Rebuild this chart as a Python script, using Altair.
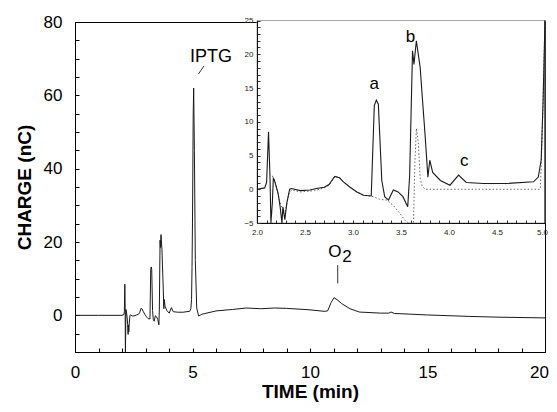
import altair as alt
import pandas as pd

FONT = "Liberation Sans"

# ---- main trace (time in min, charge in nC) ----
time_min = [0.0, 1.0, 2.0, 2.08, 2.10,
            2.12, 2.135, 2.145, 2.16, 2.17,
            2.18, 2.22, 2.24, 2.26, 2.27,
            2.29, 2.31, 2.34, 2.36, 2.45,
            2.55, 2.62, 2.70, 2.75, 2.81,
            2.86, 2.90, 2.97, 3.04, 3.11,
            3.19, 3.222, 3.243, 3.264, 3.30,
            3.33, 3.37, 3.42, 3.47, 3.52,
            3.57, 3.59, 3.62, 3.635, 3.66,
            3.70, 3.72, 3.75, 3.78, 3.80,
            3.83, 3.91, 4.01, 4.10, 4.18,
            4.36, 4.60, 4.88, 4.93, 4.96,
            4.98, 5.00, 5.03, 5.05, 5.08,
            5.12, 5.18, 5.26, 5.40, 6.0,
            6.7, 7.3, 7.9, 8.5, 9.0,
            10.0, 10.6, 10.75, 10.9, 11.02,
            11.15, 11.35, 11.7, 12.1, 13.0,
            13.35, 13.45, 13.6, 14.0, 15.0,
            16.8, 18.0, 20.0]
charge_nc = [0, 0, 0, 0.2, 1.0,
             8.5, 2.0, -11, -2.0, 1.6,
             1.4, -0.6, -2.5, -5.2, -2.6,
             -4.5, -2.1, 0.0, 0.1, -0.2,
             -0.1, 0.1, 0.3, 0.7, 1.9,
             1.7, 1.1, 0.3, -0.4, -0.9,
             -1.0, 12.4, 13.2, 12.6, 1.3,
             -1.1, -1.6, -0.1, -0.4, -1.1,
             -2.6, 2.0, 20.5, 18.5, 22.0,
             18.0, 14.0, 8.2, 1.8, 4.3,
             2.5, 1.3, 0.6, 2.1, 1.0,
             0.85, 0.85, 1.1, 1.8, 4.3,
             13.0, 26, 55, 62, 45,
             15, 2.0, -0.2, 0.3, 1.2,
             1.6, 2.0, 1.8, 2.0, 1.9,
             1.5, 1.1, 1.2, 3.5, 4.8,
             4.3, 3.2, 1.8, 0.9, 0.6,
             0.6, 0.9, 0.5, 0.4, 0.1,
             -0.3, -0.5, -0.7]

# ---- dotted trace in the inset ----
dot_time = [2.16, 2.19, 2.22, 2.25, 2.28,
            2.30, 2.33, 2.36, 2.45, 2.60,
            2.70, 2.75, 2.81, 2.86, 2.90,
            2.97, 3.04, 3.11, 3.18, 3.21,
            3.28, 3.35, 3.42, 3.49, 3.54,
            3.58, 3.62, 3.63, 3.645, 3.66,
            3.68, 3.70, 3.72, 3.75, 3.80,
            4.20, 4.60, 4.95, 4.96, 4.98,
            5.00]
dot_charge = [2.0, 1.0, -0.8, -2.4, -3.6,
              -3.0, -0.8, -0.1, -0.4, -0.2,
              0.2, 0.6, 1.9, 1.7, 1.1,
              0.3, -0.4, -0.9, -1.0, -1.1,
              -1.5, -1.6, -2.4, -3.6, -4.6,
              -6.0, -6.0, -5.5, 4.0, 9.0,
              7.0, 1.6, 0.5, 0.0, 0.0,
              0.0, 0.0, 0.0, 3.0, 13.0,
              26.0]

# ---- annotations ----
iptg_label = ["IPTG"]
iptg_t = [5.79]
iptg_q = [69.1]
o2_labels = ["O", "2"]
o2_t = [11.06, 11.57]
o2_q = [15.8, 14.6]
leader_t = [5.49, 11.18]
leader_t2 = [5.25, 11.18]
leader_q = [68.0, 13.7]
leader_q2 = [65.8, 8.7]

inset_labels = ["a", "b", "c"]
inset_label_t = [3.22, 3.60, 4.16]
inset_label_q = [14.9, 21.8, 3.5]

main_x_ticks = list(range(0, 21))
main_y_ticks = list(range(-10, 81, 5))
inset_x_ticks = [round(2.0 + 0.1 * i, 1) for i in range(31)]
inset_y_ticks = list(range(-5, 26))

main_df = pd.DataFrame({"t": time_min, "q": charge_nc})
dot_df = pd.DataFrame({"t": dot_time, "q": dot_charge})
iptg_df = pd.DataFrame({"t": iptg_t, "q": iptg_q, "label": iptg_label})
o2_df = pd.DataFrame({"t": o2_t, "q": o2_q, "label": o2_labels})
lead_df = pd.DataFrame({"t": leader_t, "t2": leader_t2, "q": leader_q, "q2": leader_q2})
in_lab_df = pd.DataFrame({"t": inset_label_t, "q": inset_label_q, "label": inset_labels})
frame_df = pd.DataFrame({"t": [2.0], "t2": [5.0], "q": [-5.0], "q2": [25.0]})

W, H = 470, 330

# ---- main scales / axes ----
main_x_axis = alt.Axis(
    title="TIME (min)", values=main_x_ticks, format="d",
    labelExpr="datum.value % 5 === 0 ? datum.label : ''",
    labelOffset={"condition": {"test": "datum.value === 20", "value": -6}, "value": 0},
    tickSize=alt.ExprRef(expr="-4"), labelPadding=16, labelFontSize=17,
    labelFlush=False, labelOverlap=False, titleFontSize=19, titleFontWeight="bold",
    titlePadding=2, grid=False)
main_y_axis = alt.Axis(
    title="CHARGE (nC)", values=main_y_ticks, format="d",
    labelExpr="datum.value % 20 === 0 ? datum.label : ''",
    tickSize=alt.ExprRef(expr="-4"), labelPadding=17, labelFontSize=17,
    labelFlush=False, labelOverlap=False, titleFontSize=19, titleFontWeight="bold",
    titlePadding=9, grid=False)
mx = alt.X("t:Q", scale=alt.Scale(domain=[0, 20], nice=False, zero=False), axis=main_x_axis)
my = alt.Y("q:Q", scale=alt.Scale(domain=[-10, 80], nice=False, zero=False), axis=main_y_axis)

main_line = alt.Chart(main_df).mark_line(color="#1a1a1a", strokeWidth=1, clip=True).encode(x=mx, y=my)
main_rules = alt.Chart(lead_df).mark_rule(color="#333333", strokeWidth=1).encode(
    x=mx, x2="t2:Q", y=my, y2="q2:Q")
iptg_text = alt.Chart(iptg_df).mark_text(font=FONT, fontSize=18, align="center",
                                         baseline="alphabetic", color="black").encode(
    x=mx, y=my, text="label:N")
o2_text = alt.Chart(o2_df).mark_text(font=FONT, fontSize=17, align="center",
                                     baseline="alphabetic", color="black").encode(
    x=mx, y=my, text="label:N")
main_layer = alt.layer(main_line, main_rules, iptg_text, o2_text)

# ---- inset scales / axes ----
inset_x_axis = alt.Axis(
    title=None, orient="bottom", offset=-129, values=inset_x_ticks, format=".1f",
    labelExpr="abs(datum.value * 2 - round(datum.value * 2)) < 0.001 ? datum.label : ''",
    labelOffset={"condition": {"test": "datum.value === 5", "value": -3}, "value": 0},
    tickSize=alt.ExprRef(expr="-3"), labelPadding=8, labelFontSize=8, labelColor="#222222",
    labelFlush=False, labelOverlap=False, grid=False, zindex=2,
    domainColor="#111111", tickColor="#333333")
inset_y_axis = alt.Axis(
    title=None, orient="left", offset=-182, values=inset_y_ticks, format="d",
    labelExpr="datum.value % 5 === 0 ? datum.label : ''",
    tickSize=alt.ExprRef(expr="-3"), labelPadding=7, labelFontSize=8, labelColor="#222222",
    labelFlush=False, labelOverlap=False, grid=False, zindex=2,
    domainColor="#111111", tickColor="#333333")
in_xs = alt.Scale(domain=[2, 5], range=[182, 470], nice=False, zero=False, clamp=True)
in_ys = alt.Scale(domain=[-5, 25], range=[201, -1.5], nice=False, zero=False, clamp=True)
ix = alt.X("t:Q", scale=in_xs, axis=inset_x_axis)
iy = alt.Y("q:Q", scale=in_ys, axis=inset_y_axis)

frame = alt.Chart(frame_df).mark_rect(fill="white", stroke="#aaaaaa", strokeWidth=1).encode(
    x=ix, x2="t2:Q", y=iy, y2="q2:Q")
edge = alt.Chart(frame_df).mark_rule(color="#222222", strokeWidth=1.2).encode(
    x=alt.X("t2:Q", scale=in_xs, axis=inset_x_axis), y=iy, y2="q2:Q")
inset_dot = alt.Chart(dot_df).mark_line(color="#666666", strokeWidth=1, strokeDash=[1.5, 2]).encode(
    x=ix, y=iy)
inset_solid = alt.Chart(main_df).transform_filter("datum.t >= 2 && datum.t <= 5").mark_line(
    color="#1a1a1a", strokeWidth=1.1).encode(x=ix, y=iy)
inset_text = alt.Chart(in_lab_df).mark_text(font=FONT, fontSize=17, align="center",
                                            baseline="alphabetic", color="black").encode(
    x=ix, y=iy, text="label:N")
inset_layer = alt.layer(frame, edge, inset_dot, inset_solid, inset_text)

chart = alt.layer(main_layer, inset_layer).resolve_scale(
    x="independent", y="independent"
).properties(
    width=W, height=H,
    autosize=alt.AutoSizeParams(type="none"),
    padding={"left": 67, "top": 14, "right": 4, "bottom": 52},
).configure_view(
    stroke="black", strokeWidth=1
).configure_axis(
    labelFont=FONT, titleFont=FONT, labelColor="black", titleColor="black",
    domainColor="black", tickColor="black", domainWidth=1, tickWidth=1
).configure_text(font=FONT)

chart.save("out.html", embed_options={"renderer": "svg", "actions": False})
